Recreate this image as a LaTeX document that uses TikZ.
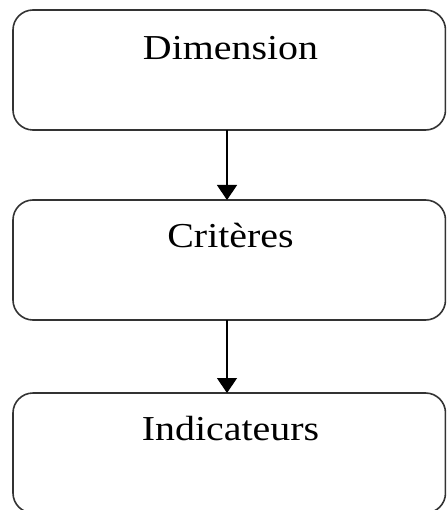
\documentclass[tikz,border=0pt]{standalone}
\usepackage{fontspec}
\setmainfont{Liberation Serif}[FakeStretch=1.14]
\usetikzlibrary{arrows.meta}
\begin{document}
\begin{tikzpicture}[x=1pt,y=-1pt,
  stage/.style={draw=black!80, line width=1.6pt, rounded corners=20pt},
  label/.style={font=\fontsize{35}{40}\selectfont, inner sep=0pt, anchor=base},
  flow/.style={line width=1.4pt, -{Triangle[width=20pt,length=15pt]}}]
  \useasboundingbox (0,0) rectangle (446,510);
  \clip (0,0) rectangle (446,510);
  % three stacked stages
  \draw[stage] (13,10) rectangle (445.5,130);
  \draw[stage] (13,200) rectangle (445.5,320);
  \draw[stage] (13,393) rectangle (445.5,513);
  \coordinate (d-bot) at (227,130);
  \coordinate (c-top) at (227,200);
  \coordinate (c-bot) at (227,320);
  \coordinate (i-top) at (227,393);
  \node[label] (dim) at (230.5,60) {Dimension};
  \node[label] (crit) at (230.5,247) {Critères};
  \node[label] (ind) at (230.5,440) {Indicateurs};
  % arrows between stages
  \draw[flow] (d-bot) -- (c-top);
  \draw[flow] (c-bot) -- (i-top);
\end{tikzpicture}
\end{document}
